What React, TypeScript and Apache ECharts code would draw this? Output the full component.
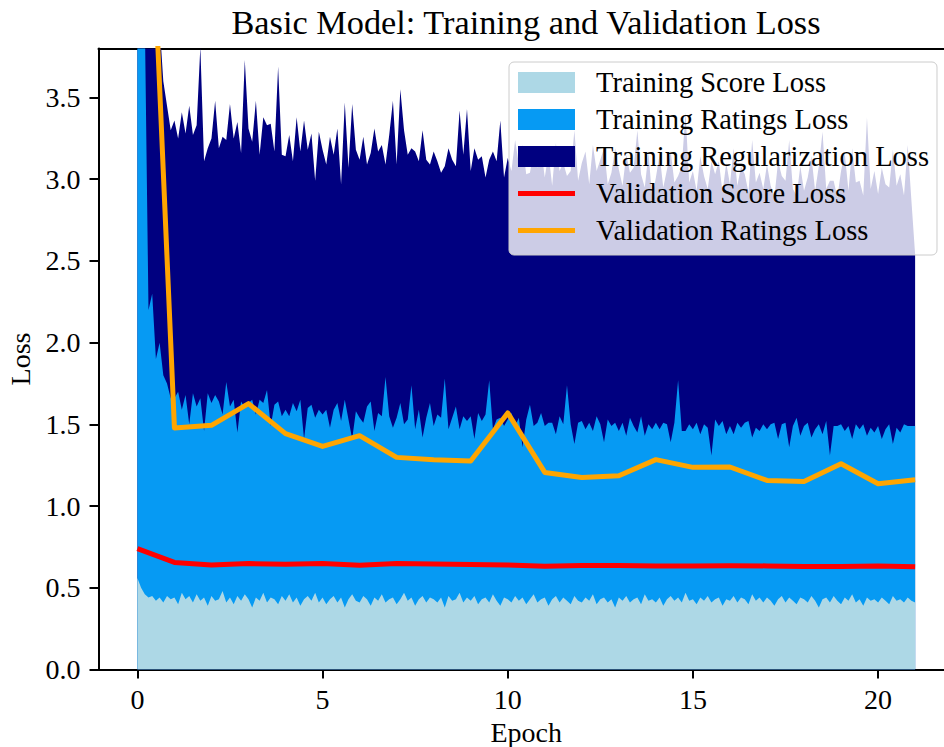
import React, { useEffect, useRef } from "react";
import * as echarts from "echarts";

const FONT = '"Liberation Serif", "Times New Roman", serif';

// samples recorded per epoch in the training curves
const EPOCH_SAMPLES = 10;

const valEpochs = [0, 1, 2, 3, 4, 5, 6, 7, 8, 9, 10, 11, 12, 13, 14, 15, 16, 17, 18, 19, 20, 21];
const valScoreLoss = [0.74, 0.655, 0.64, 0.648, 0.644, 0.648, 0.638, 0.648, 0.645, 0.643, 0.64, 0.632, 0.636, 0.636, 0.634, 0.634, 0.635, 0.634, 0.63, 0.63, 0.633, 0.628];
const valRatingsLoss = [6.7, 1.478, 1.494, 1.627, 1.443, 1.365, 1.431, 1.298, 1.284, 1.276, 1.57, 1.206, 1.175, 1.186, 1.284, 1.237, 1.239, 1.157, 1.151, 1.259, 1.137, 1.161];

const trainScoreLoss = [
  0.56, 0.50, 0.46, 0.44, 0.45, 0.42, 0.44, 0.41, 0.45, 0.43,
  0.44, 0.40, 0.47, 0.43, 0.45, 0.41, 0.46, 0.42, 0.44, 0.39,
  0.45, 0.42, 0.43, 0.48, 0.41, 0.44, 0.40, 0.45, 0.42, 0.46,
  0.43, 0.38, 0.44, 0.42, 0.47, 0.41, 0.44, 0.43, 0.40, 0.45,
  0.42, 0.46, 0.41, 0.44, 0.39, 0.43, 0.45, 0.42, 0.47, 0.41,
  0.44, 0.40, 0.43, 0.45, 0.41, 0.44, 0.38, 0.43, 0.46, 0.42,
  0.41, 0.45, 0.43, 0.39, 0.44, 0.42, 0.46, 0.41, 0.43, 0.44,
  0.40, 0.43, 0.47, 0.42, 0.44, 0.39, 0.43, 0.45, 0.41, 0.44,
  0.43, 0.41, 0.44, 0.38, 0.45, 0.42, 0.43, 0.47, 0.41, 0.44,
  0.42, 0.45, 0.40, 0.43, 0.44, 0.41, 0.46, 0.42, 0.39, 0.44,
  0.43, 0.41, 0.45, 0.42, 0.44, 0.40, 0.43, 0.46, 0.41, 0.43,
  0.44, 0.39, 0.43, 0.45, 0.41, 0.44, 0.42, 0.40, 0.45, 0.42,
  0.41, 0.44, 0.42, 0.46, 0.40, 0.43, 0.44, 0.41, 0.43, 0.38,
  0.44, 0.42, 0.45, 0.41, 0.43, 0.44, 0.40, 0.46, 0.42, 0.43,
  0.41, 0.44, 0.39, 0.43, 0.45, 0.42, 0.44, 0.41, 0.47, 0.42,
  0.43, 0.40, 0.44, 0.42, 0.45, 0.41, 0.43, 0.44, 0.39, 0.43,
  0.42, 0.45, 0.41, 0.44, 0.43, 0.40, 0.46, 0.42, 0.44, 0.41,
  0.44, 0.42, 0.39, 0.43, 0.45, 0.41, 0.44, 0.42, 0.40, 0.44,
  0.43, 0.41, 0.45, 0.42, 0.38, 0.43, 0.44, 0.41, 0.45, 0.42,
  0.40, 0.44, 0.42, 0.46, 0.41, 0.43, 0.39, 0.44, 0.42, 0.43,
  0.41, 0.44, 0.42, 0.40, 0.45, 0.42, 0.43, 0.41, 0.44, 0.42,
  0.41,
];

const trainRatingsLoss = [
  4.44, 4.00, 3.54, 1.76, 1.85, 1.48, 1.56, 1.39, 1.30, 1.23,
  1.22, 1.30, 1.12, 1.25, 1.05, 1.28, 1.15, 1.24, 1.02, 1.30,
  1.18, 1.26, 1.21, 1.08, 1.35, 1.17, 1.25, 1.00, 1.22, 1.14,
  1.20, 1.27, 1.12, 1.23, 1.16, 1.30, 1.05, 1.19, 1.24, 1.10,
  1.17, 1.09, 1.22, 1.14, 1.26, 0.98, 1.15, 1.20, 1.07, 1.18,
  1.12, 1.19, 1.05, 1.14, 1.22, 1.08, 1.27, 1.10, 0.95, 1.16,
  1.13, 1.06, 1.18, 1.25, 1.02, 1.15, 1.09, 1.38, 1.12, 1.04,
  1.14, 1.20, 1.03, 1.11, 1.30, 1.08, 1.16, 0.97, 1.13, 1.19,
  1.06, 1.15, 1.10, 1.40, 1.02, 1.12, 1.18, 1.00, 1.14, 1.08,
  1.13, 0.96, 1.17, 1.09, 1.12, 1.36, 1.01, 1.11, 1.15, 1.05,
  1.10, 1.16, 1.04, 1.12, 0.92, 1.13, 1.19, 1.03, 1.10, 1.14,
  1.05, 1.12, 1.08, 0.99, 1.14, 1.06, 1.32, 1.10, 0.93, 1.09,
  1.11, 1.03, 1.09, 1.00, 1.15, 1.07, 0.95, 1.12, 1.06, 1.13,
  1.02, 1.09, 0.98, 1.13, 1.06, 1.01, 1.15, 0.97, 1.08, 1.04,
  1.10, 1.03, 1.12, 1.07, 0.94, 1.09, 1.33, 1.05, 0.99, 1.08,
  1.04, 1.11, 1.00, 1.08, 1.03, 0.90, 1.10, 1.05, 1.13, 1.01,
  1.07, 0.99, 1.10, 1.04, 1.08, 1.12, 0.96, 1.06, 1.02, 1.09,
  1.03, 1.08, 1.12, 0.98, 1.05, 1.10, 0.92, 1.07, 1.14, 0.99,
  1.06, 1.10, 0.97, 1.05, 1.12, 1.01, 1.08, 0.90, 1.04, 1.07,
  1.10, 1.02, 1.07, 0.95, 1.09, 1.04, 1.11, 0.99, 1.06, 1.02,
  1.08, 0.97, 1.05, 1.10, 0.93, 1.06, 1.02, 1.09, 1.05, 1.07,
  1.08,
];

const trainRegLoss = [
  3.00, 3.00, 3.00, 3.80, 2.90, 2.70, 1.95, 1.80, 1.70, 1.64,
  1.70, 1.55, 1.82, 1.60, 1.95, 1.58, 1.72, 2.15, 1.65, 1.50,
  1.62, 1.80, 1.55, 1.70, 1.48, 1.85, 1.60, 1.90, 1.52, 2.13,
  1.68, 1.58, 1.92, 1.50, 1.75, 1.62, 1.85, 1.55, 2.05, 1.60,
  1.55, 1.72, 1.48, 1.80, 1.52, 1.95, 1.58, 1.66, 1.45, 1.70,
  1.62, 1.50, 1.78, 1.56, 1.68, 1.45, 1.82, 1.54, 2.05, 1.60,
  1.58, 1.75, 1.48, 1.52, 1.85, 1.60, 1.66, 1.30, 1.72, 2.00,
  1.55, 1.92, 1.80, 1.62, 1.45, 1.70, 1.52, 1.88, 1.58, 1.46,
  1.68, 1.55, 1.50, 1.30, 1.72, 1.58, 1.47, 1.95, 1.60, 1.91,
  1.50, 1.78, 1.55, 1.62, 1.45, 1.35, 1.70, 1.58, 1.82, 1.52,
  1.60, 1.48, 1.75, 1.55, 1.85, 1.50, 1.42, 1.68, 1.56, 1.62,
  1.52, 1.65, 1.45, 1.78, 1.50, 1.60, 1.28, 1.55, 1.92, 1.48,
  1.58, 1.70, 1.46, 1.75, 1.50, 1.62, 1.80, 1.44, 1.55, 1.68,
  1.60, 1.45, 1.72, 1.50, 1.58, 1.85, 1.48, 1.52, 1.66, 1.42,
  1.50, 1.68, 1.44, 1.56, 1.78, 1.47, 1.25, 1.62, 1.95, 1.48,
  1.58, 1.42, 1.70, 1.52, 1.46, 1.80, 1.50, 1.62, 1.40, 1.66,
  1.48, 1.75, 1.45, 1.60, 1.52, 1.40, 1.82, 1.50, 1.58, 1.44,
  1.62, 1.46, 1.38, 1.70, 1.52, 1.48, 1.88, 1.45, 1.36, 1.65,
  1.44, 1.50, 1.72, 1.46, 1.58, 1.85, 1.42, 1.68, 1.50, 1.40,
  1.55, 1.70, 1.44, 1.78, 1.48, 1.52, 1.40, 1.95, 1.46, 1.60,
  1.42, 1.66, 1.50, 1.45, 1.80, 1.48, 1.58, 1.40, 1.72, 1.38,
  1.05,
];

const xTicks = [0, 5, 10, 15, 20];
const yTicks = [0, 0.5, 1, 1.5, 2, 2.5, 3, 3.5];

const COLORS = {
  score: "#add8e6",
  ratings: "#069af3",
  reg: "#000080",
  valScore: "#ff0000",
  valRatings: "#ffa500",
};

export default function App() {
  const ref = useRef<HTMLDivElement>(null);

  useEffect(() => {
    if (!ref.current) return;
    const chart = echarts.init(ref.current, null, { renderer: "svg" });

    const xs = trainScoreLoss.map((_, i) => i / EPOCH_SAMPLES);
    // stackplot: cumulative tops of each layer, each filled from zero,
    // painted from the highest layer down.
    const scoreTop = trainScoreLoss.map((v) => v);
    const ratingsTop = trainRatingsLoss.map((v, i) => scoreTop[i] + v);
    const regTop = trainRegLoss.map((v, i) => ratingsTop[i] + v);
    const pair = (arr: number[]) => arr.map((v, i) => [xs[i], v]);
    const valPair = (arr: number[]) => arr.map((v, i) => [valEpochs[i], v]);

    const area = (name: string, data: number[], color: string, z: number) => ({
      name,
      type: "line",
      data: pair(data),
      symbol: "none",
      showSymbol: false,
      silent: true,
      color,
      lineStyle: { width: 0, opacity: 0 },
      itemStyle: { color, borderWidth: 0 },
      areaStyle: { color, opacity: 1, origin: 0 },
      z,
    });

    const line = (name: string, data: number[], color: string) => ({
      name,
      type: "line",
      data: valPair(data),
      symbol: "none",
      showSymbol: false,
      silent: true,
      color,
      itemStyle: { color, borderWidth: 0 },
      lineStyle: { width: 5, color, join: "round" },
      z: 3,
    });

    const axisLine = { show: true, onZero: false, lineStyle: { color: "#000", width: 2 } };
    const tickStyle = { color: "#000", width: 2 };
    const labelFont = { fontFamily: FONT, fontSize: 28, color: "#000" };
    const lineIcon = "path://M0,0H57V5H0Z";

    chart.setOption({
      animation: false,
      backgroundColor: "#ffffff",
      grid: {
        left: 98.5,
        top: 48.5,
        right: -10,
        bottom: 77.5,
        containLabel: false,
        outerBoundsMode: "none",
      },
      graphic: [
        {
          type: "text",
          x: 526,
          y: 22,
          style: {
            text: "Basic Model: Training and Validation Loss",
            fontFamily: FONT,
            fontSize: 34.3,
            fill: "#000",
            align: "center",
            verticalAlign: "middle",
            textAlign: "center",
            textVerticalAlign: "middle",
          },
        },
      ],
      legend: {
        orient: "vertical",
        left: 509,
        top: 62,
        padding: [6, 8, 10, 9],
        itemWidth: 57,
        itemHeight: 21,
        itemGap: 8,
        selectedMode: false,
        backgroundColor: "rgba(255,255,255,0.8)",
        borderColor: "#cccccc",
        borderWidth: 1,
        borderRadius: 5,
        textStyle: {
          fontFamily: FONT,
          fontSize: 28.5,
          color: "#000",
          padding: [0, 0, 0, 16],
        },
        data: [
          { name: "Training Score Loss", icon: "rect" },
          { name: "Training Ratings Loss", icon: "rect" },
          { name: "Training Regularization Loss", icon: "rect" },
          { name: "Validation Score Loss", icon: lineIcon },
          { name: "Validation Ratings Loss", icon: lineIcon },
        ],
      },
      xAxis: [
        {
          type: "value",
          min: -1.05,
          max: 22.05,
          axisLine,
          axisTick: { show: true, length: 9, lineStyle: tickStyle, customValues: xTicks },
          axisLabel: { show: true, customValues: xTicks, margin: 16, ...labelFont },
          splitLine: { show: false },
          name: "Epoch",
          nameLocation: "middle",
          nameGap: 47,
          nameTextStyle: labelFont,
        },
        {
          type: "value",
          position: "top",
          min: -1.05,
          max: 22.05,
          axisLine,
          axisTick: { show: false },
          axisLabel: { show: false },
          splitLine: { show: false },
        },
      ],
      yAxis: {
        type: "value",
        min: 0,
        max: 3.8,
        axisLine,
        axisTick: { show: true, length: 9, lineStyle: tickStyle, customValues: yTicks },
        axisLabel: {
          show: true,
          customValues: yTicks,
          margin: 18,
          formatter: (v: number) => v.toFixed(1),
          ...labelFont,
        },
        splitLine: { show: false },
        name: "Loss",
        nameLocation: "middle",
        nameRotate: 90,
        nameGap: 64,
        nameTextStyle: labelFont,
      },
      series: [
        area("Training Regularization Loss", regTop, COLORS.reg, 2),
        area("Training Ratings Loss", ratingsTop, COLORS.ratings, 2),
        area("Training Score Loss", scoreTop, COLORS.score, 2),
        line("Validation Score Loss", valScoreLoss, COLORS.valScore),
        line("Validation Ratings Loss", valRatingsLoss, COLORS.valRatings),
      ],
    });

    return () => chart.dispose();
  }, []);

  return (
    <div
      ref={ref}
      style={{ position: "absolute", left: 0, top: 0, width: 944, height: 747 }}
    />
  );
}
